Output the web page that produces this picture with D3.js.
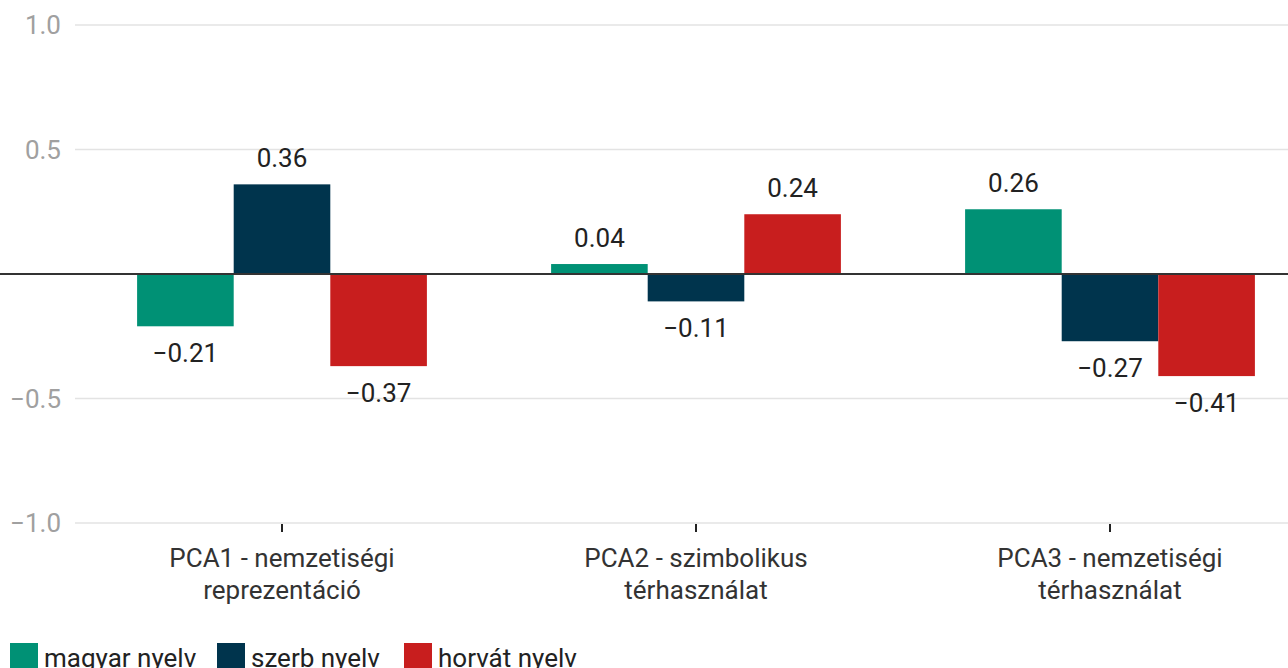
<!DOCTYPE html>
<html lang="hu">
<head>
<meta charset="UTF-8">
<title>PCA</title>
<script src="https://d3js.org/d3.v7.min.js"></script>
<style>
  body { margin: 0; background: #fff; }
  svg { display: block; font-family: Roboto, sans-serif; }
</style>
</head>
<body>
<script>
  // data
  const categories = [["PCA1 - nemzetiségi", "reprezentáció"], ["PCA2 - szimbolikus", "térhasználat"], ["PCA3 - nemzetiségi", "térhasználat"]];
  const series = ["magyar nyelv", "szerb nyelv", "horvát nyelv"];
  const colors = ["#009175", "#00344d", "#c81e1e"];
  const magyar = [-0.21, 0.04, 0.26];
  const szerb = [0.36, -0.11, -0.27];
  const horvat = [-0.37, 0.24, -0.41];
  const yTicks = [-1.0, -0.5, 0.5, 1.0];

  const values = [magyar, szerb, horvat];

  const W = 1288, H = 668;
  const svg = d3.select("body").append("svg").attr("width", W).attr("height", H);

  const x = d3.scaleBand().domain(d3.range(categories.length)).range([75, 1317])
              .paddingInner(0.3).paddingOuter(0.15);
  const xs = d3.scaleBand().domain(d3.range(series.length)).range([0, x.bandwidth()]);
  const y = d3.scaleLinear().domain([-1, 1]).range([523, 25]);

  // gridlines
  svg.append("g").selectAll("line").data(yTicks).join("line")
     .attr("x1", 75).attr("x2", W)
     .attr("y1", d => y(d)).attr("y2", d => y(d))
     .attr("stroke", "#e3e3e3").attr("stroke-width", 1.5);

  svg.append("g").selectAll("text").data(yTicks).join("text")
     .attr("x", 61).attr("y", d => y(d) + 9)
     .attr("text-anchor", "end").attr("font-size", 26).attr("fill", "#a0a0a0")
     .text(d => d3.format(".1f")(d).replace("-", "\u2212"));

  // bars
  const rows = [];
  categories.forEach((c, i) => series.forEach((s, j) => rows.push({ i, j, v: values[j][i] })));

  svg.append("g").selectAll("rect").data(rows).join("rect")
     .attr("x", d => x(d.i) + xs(d.j))
     .attr("width", xs.bandwidth())
     .attr("y", d => y(Math.max(0, d.v)))
     .attr("height", d => Math.abs(y(d.v) - y(0)))
     .attr("fill", d => colors[d.j]);

  svg.append("g").selectAll("text").data(rows).join("text")
     .attr("x", d => x(d.i) + xs(d.j) + xs.bandwidth() / 2)
     .attr("y", d => d.v >= 0 ? y(d.v) - 17 : y(d.v) + 36)
     .attr("text-anchor", "middle").attr("font-size", 26).attr("fill", "#222")
     .text(d => d3.format(".2f")(d.v).replace("-", "\u2212"));

  // zero line
  svg.append("line").attr("x1", 0).attr("x2", W).attr("y1", y(0)).attr("y2", y(0))
     .attr("stroke", "#333").attr("stroke-width", 2);

  // x axis
  const xa = svg.append("g").selectAll("g").data(categories).join("g")
     .attr("transform", (d, i) => `translate(${x(i) + x.bandwidth() / 2},0)`);
  xa.append("line").attr("y1", y(-1) + 1).attr("y2", y(-1) + 9).attr("stroke", "#222").attr("stroke-width", 2);
  xa.append("text").attr("text-anchor", "middle").attr("font-size", 26).attr("fill", "#333")
    .selectAll("tspan").data(d => d).join("tspan")
    .attr("x", 0).attr("y", (d, k) => 567 + k * 32).text(d => d);

  // legend
  const legX = [10, 217, 404];
  const lg = svg.append("g").selectAll("g").data(series).join("g")
     .attr("transform", (d, i) => `translate(${legX[i]},643)`);
  lg.append("rect").attr("width", 28).attr("height", 28).attr("fill", (d, i) => colors[i]);
  lg.append("text").attr("x", 34).attr("y", 24).attr("font-size", 26).attr("fill", "#222").text(d => d);
</script>
</body>
</html>
